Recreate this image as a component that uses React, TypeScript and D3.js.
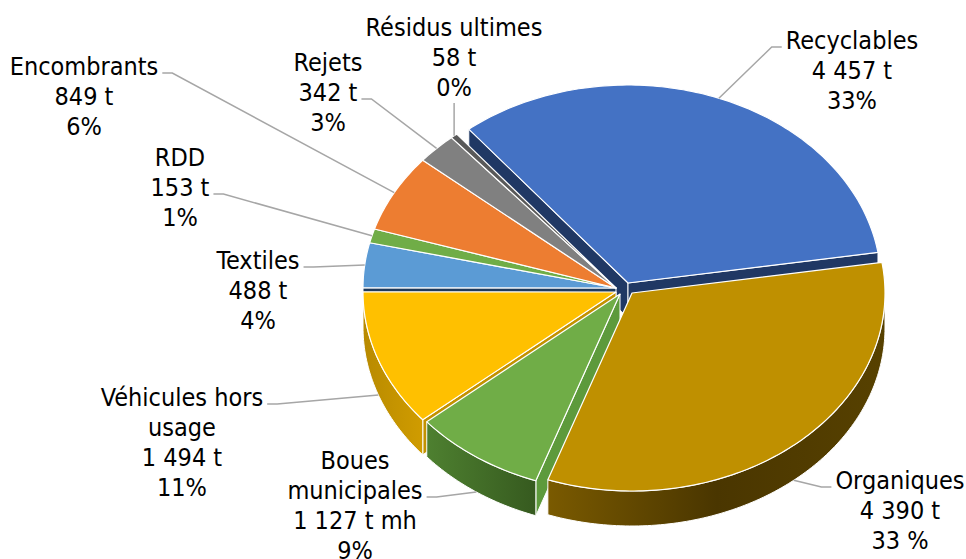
import React, { useEffect, useRef } from 'react';
import * as d3 from 'd3';

const W = 966;
const H = 559;

// waste categories, in pie order (clockwise from the first slice)
const categories = ['Recyclables', 'Organiques', 'Boues municipales', 'Véhicules hors usage', 'Textiles', 'RDD', 'Encombrants', 'Rejets', 'Résidus ultimes'];
const tonnages = [4457, 4390, 1127, 1494, 488, 153, 849, 342, 58];
const labelLines = [
  ['Recyclables', '4 457 t', '33%'],
  ['Organiques', '4 390 t', '33 %'],
  ['Boues', 'municipales', '1 127 t mh', '9%'],
  ['Véhicules hors', 'usage', '1 494 t', '11%'],
  ['Textiles', '488 t', '4%'],
  ['RDD', '153 t', '1%'],
  ['Encombrants', '849 t', '6%'],
  ['Rejets', '342 t', '3%'],
  ['Résidus ultimes', '58 t', '0%'],
];

const topColors = ['#4472C4', '#BF9000', '#70AD47', '#FFC000', '#5B9BD5', '#70AD47', '#ED7D31', '#808080', '#595959'];
const wallColors = [
  ['#22406f', '#1c3560'],
  ['#7a5a00', '#4a3600', '#574100'],
  ['#4e8030', '#365a1f'],
  ['#b88a00', '#d09c00'],
  ['#3a6ea0', '#3a6ea0'],
  ['#507e32', '#507e32'],
  ['#c55a11', '#c55a11'],
  ['#5f5f5f', '#5f5f5f'],
  ['#3f3f3f', '#3f3f3f'],
];
const radialColors = ['#203864', '#7f6000', '#5d9a3c', '#c39200', '#1f3a5c', '#507e32', '#c55a11', '#5f5f5f', '#3f3f3f'];

// explosion of slices, px (x, y)
const explode = [[12, -5], [16, 5], [4, 6], [0, 4], [0, 0], [0, 0], [0, 0], [0, 0], [0, 0]];

// label layout: center x, first line y, line used for the leader, side of the text the leader leaves from
const labelX = [852, 900, 355, 182, 258, 180, 84, 328, 454];
const labelY = [40, 480, 460, 397, 260, 157, 66, 62, 27];
const leaderLine = [0, 0, 1, 0, 0, 1, 0, 1, -1];
const leaderSide = ['left', 'left', 'right', 'right', 'right', 'right', 'right', 'right', 'bottom'];

const firstSliceAngle = 321; // degrees

const App = () => {
  const ref = useRef<SVGSVGElement>(null);

  useEffect(() => {
    const svg = d3.select(ref.current);
    svg.selectAll('*').remove();

    const cx = 616, cy = 288, rx = 253, ry = 198, depth = 35;
    const lineH = 30;
    const a0 = firstSliceAngle * Math.PI / 180;
    const n = tonnages.length;

    const pie = d3.pie<number>().sort(null).value(d => d)
      .startAngle(a0).endAngle(a0 + 2 * Math.PI);
    const arcs = pie(tonnages);

    const proj = (a: number, r: number, h: number, o: number[]): [number, number] =>
      [cx + o[0] + r * rx * Math.sin(a), cy + o[1] - r * ry * Math.cos(a) + h];
    const arcPts = (s: number, e: number, h: number, o: number[]) => {
      const m = Math.max(2, Math.ceil((e - s) / (Math.PI / 180)));
      return d3.range(m + 1).map(i => proj(s + (e - s) * i / m, 1, h, o));
    };
    const poly = (pts: [number, number][]) => 'M' + pts.map(p => p[0].toFixed(2) + ',' + p[1].toFixed(2)).join('L') + 'Z';
    const sameOffset = (i: number, j: number) =>
      explode[i][0] === explode[j][0] && explode[i][1] === explode[j][1];

    const defs = svg.append('defs');
    wallColors.forEach((c, i) => {
      const g = defs.append('linearGradient').attr('id', 'wall' + i).attr('x1', 0).attr('x2', 1).attr('y1', 0).attr('y2', 0);
      c.forEach((col, k) => g.append('stop').attr('offset', k / (c.length - 1)).attr('stop-color', col));
    });

    // front-most y of each slice decides the drawing order
    const slices = arcs.map((d, i) => {
      const o = explode[i];
      let front = 0;
      d3.range(0, 1.0001, 0.02).forEach(t => {
        const a = d.startAngle + (d.endAngle - d.startAngle) * t;
        front = Math.max(front, -Math.cos(a));
      });
      return { d, i, o, key: o[1] + front * ry };
    });
    const order = slices.slice().sort((p, q) => p.key - q.key);

    // walls first, then the top faces
    const gWalls = svg.append('g');
    const gTops = svg.append('g');
    order.forEach(({ d, i, o }) => {
      const s = d.startAngle, e = d.endAngle;
      const wall = (path: string, fill: string) => gWalls.append('path')
        .attr('d', path).attr('fill', fill)
        .attr('stroke', '#fff').attr('stroke-width', 1).attr('stroke-linejoin', 'round');
      // radial walls, only where the slice is pulled apart from its neighbour
      if (Math.sin(s) < -1e-6 && !sameOffset(i, (i + n - 1) % n)) {
        wall(poly([proj(s, 0, 0, o), proj(s, 1, 0, o), proj(s, 1, depth, o), proj(s, 0, depth, o)]), radialColors[i]);
      }
      if (Math.sin(e) > 1e-6 && !sameOffset(i, (i + 1) % n)) {
        wall(poly([proj(e, 0, 0, o), proj(e, 1, 0, o), proj(e, 1, depth, o), proj(e, 0, depth, o)]), radialColors[i]);
      }
      // outer wall on the front half
      for (let k = -1; k <= 2; k++) {
        const b0 = Math.PI / 2 + 2 * Math.PI * k, b1 = 3 * Math.PI / 2 + 2 * Math.PI * k;
        const ws = Math.max(s, b0), we = Math.min(e, b1);
        if (we > ws) {
          wall(poly([...arcPts(ws, we, 0, o), ...arcPts(ws, we, depth, o).reverse()]), `url(#wall${i})`);
        }
      }
      // top face
      gTops.append('path')
        .attr('d', poly([proj(s, 0, 0, o), ...arcPts(s, e, 0, o)]))
        .attr('fill', topColors[i]).attr('stroke', '#fff').attr('stroke-width', 1.2).attr('stroke-linejoin', 'round');
    });

    // labels and leader lines
    const gLab = svg.append('g')
      .style('font-family', "'DejaVu Sans Condensed', 'DejaVu Sans', sans-serif")
      .style('font-stretch', 'condensed')
      .style('font-size', '25px');

    slices.forEach(({ d, i, o }) => {
      const lines = labelLines[i];
      const t = gLab.append('text').attr('text-anchor', 'middle').attr('fill', '#000');
      lines.forEach((l, k) => {
        t.append('tspan').attr('x', labelX[i]).attr('y', labelY[i] + k * lineH).attr('dy', '0.35em').text(l);
      });

      const mid = (d.startAngle + d.endAngle) / 2;
      const anchor = proj(mid, 1, Math.cos(mid) < 0 ? depth : 0, o);
      let pts: [number, number][];
      if (leaderSide[i] === 'bottom') {
        const yb = labelY[i] + (lines.length - 1) * lineH + 16;
        pts = [[anchor[0], yb], anchor];
      } else {
        const k = leaderLine[i];
        const node = t.selectAll('tspan').nodes()[k] as SVGTextContentElement;
        const w = node.getComputedTextLength();
        const ly = labelY[i] + k * lineH + 7;
        const dir = leaderSide[i] === 'left' ? -1 : 1;
        const x0 = labelX[i] + dir * (w / 2 + 4);
        pts = [[x0, ly], [x0 + dir * 10, ly], anchor];
      }
      gLab.append('path')
        .attr('d', d3.line()(pts))
        .attr('fill', 'none').attr('stroke', '#a6a6a6').attr('stroke-width', 1.5);
    });
  }, []);

  return (
    <svg ref={ref} width={W} height={H}
      style={{ position: 'absolute', left: 0, top: 0, background: '#fff' }} />
  );
};

export default App;
